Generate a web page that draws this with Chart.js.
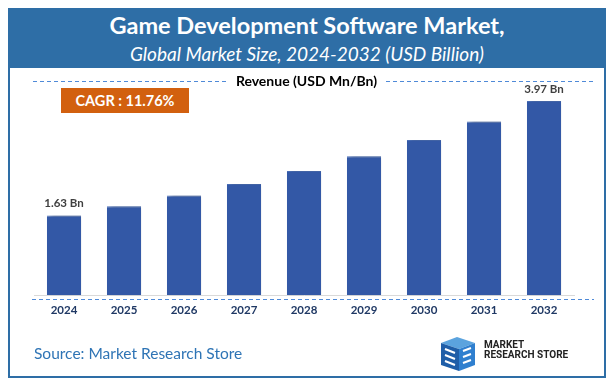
<!DOCTYPE html>
<html>
<head>
<meta charset="utf-8">
<script src="https://cdn.jsdelivr.net/npm/chart.js@4"></script>
<style>
  body{margin:0;width:613px;height:384px;background:#fff;font-family:Lato,"Open Sans",sans-serif;overflow:hidden;position:relative;}
  .frame{position:absolute;left:8px;top:8px;width:594px;height:366px;border:2px solid #2e6ea6;box-sizing:content-box;}
  .head{position:absolute;left:8px;top:8px;width:598px;height:60px;background:#2e6ea6;color:#fff;text-align:center;}
  .head .t{position:absolute;left:0;right:0;top:3px;font-weight:bold;font-size:23.5px;}
  .head .s{position:absolute;left:0;right:0;top:34px;font-style:italic;font-size:19px;}
  .cagr{position:absolute;left:61px;top:88px;width:128px;height:25px;background:#d2600f;color:#fff;font-weight:bold;font-size:14.5px;line-height:25px;text-align:center;}
  .rev{position:absolute;left:0;width:613px;top:72px;text-align:center;font-weight:bold;font-size:14px;color:#000;}
  .src{position:absolute;left:34px;top:344px;font-size:15.5px;color:#2e74b5;}
  .logo{position:absolute;left:484px;top:340px;font-family:Roboto,sans-serif;font-weight:bold;font-size:10px;line-height:10px;color:#222;}
  canvas{position:absolute;left:0;top:0;}
</style>
</head>
<body>
<div class="frame"></div>
<div class="head">
  <div class="t">Game Development Software Market,</div>
  <div class="s">Global Market Size, 2024-2032 (USD Billion)</div>
</div>
<canvas id="chart" width="613" height="384"></canvas>
<div class="rev">Revenue (USD Mn/Bn)</div>
<div class="cagr">CAGR : 11.76%</div>
<div class="src">Source: Market Research Store</div>
<svg style="position:absolute;left:437px;top:335px" width="42" height="38" viewBox="0 0 42 38">
  <polygon points="4,8 20,2 38,8 22,14" fill="#5ba3de"/>
  <polygon points="4,8 22,14 22,36 4,30" fill="#1f5ea8"/>
  <polygon points="22,14 38,8 38,30 22,36" fill="#2f7fcf"/>
  <path d="M8,14 L18,18 M8,20 L18,24 M8,26 L18,30" stroke="#fff" stroke-width="2"/>
  <path d="M26,16 L34,13 M26,22 L34,19 M26,28 L34,25" stroke="#fff" stroke-width="2"/>
</svg>
<div class="logo">MARKET<br>RESEARCH STORE</div>
<script>
const years = ['2024','2025','2026','2027','2028','2029','2030','2031','2032'];
const revenue = [1.63, 1.82, 2.04, 2.27, 2.54, 2.84, 3.17, 3.55, 3.97];
const shownLabels = {0:'1.63 Bn', 8:'3.97 Bn'};

const decor = {
  id:'decor',
  beforeDatasetsDraw(chart){
    const ctx = chart.ctx;
    ctx.save();
    ctx.shadowColor = 'rgba(0,0,0,0.45)';
    ctx.shadowOffsetX = 4;
    ctx.shadowOffsetY = 1;
    ctx.shadowBlur = 4;
  },
  afterDatasetsDraw(chart){
    const ctx = chart.ctx;
    ctx.restore();
    ctx.save();
    // dashed guide lines
    ctx.strokeStyle = '#4f8ad8';
    ctx.lineWidth = 1;
    ctx.setLineDash([4,3]);
    ctx.beginPath();
    ctx.moveTo(33,81.5); ctx.lineTo(226,81.5);
    ctx.moveTo(386,81.5); ctx.lineTo(594,81.5);
    ctx.moveTo(32,299.5); ctx.lineTo(594,299.5);
    ctx.stroke();
    ctx.setLineDash([]);
    // value labels
    const meta = chart.getDatasetMeta(0);
    ctx.fillStyle = '#404040';
    ctx.font = 'bold 11.5px Lato, sans-serif';
    ctx.textAlign = 'center';
    ctx.textBaseline = 'bottom';
    Object.keys(shownLabels).forEach(i=>{
      const b = meta.data[i];
      ctx.fillText(shownLabels[i], b.x, b.y - 6);
    });
    ctx.restore();
  }
};

new Chart(document.getElementById('chart'), {
  type:'bar',
  data:{
    labels:years,
    datasets:[{data:revenue, backgroundColor:'#3358a6', borderColor:'#4a6fb8', borderWidth:{top:1,left:0,right:0,bottom:0}, barPercentage:0.57, categoryPercentage:1}]
  },
  options:{
    responsive:false,
    animation:false,
    layout:{padding:{left:34, right:39, top:75, bottom:67}},
    plugins:{legend:{display:false}, tooltip:{enabled:false}},
    scales:{
      x:{
        grid:{display:false},
        border:{display:true, color:'#d9d9d9', width:1},
        ticks:{color:'#1f3864', font:{family:'Lato', weight:'bold', size:11.5}, padding:0}
      },
      y:{display:false, min:0, max:4.5}
    }
  },
  plugins:[decor]
});
</script>
</body>
</html>
